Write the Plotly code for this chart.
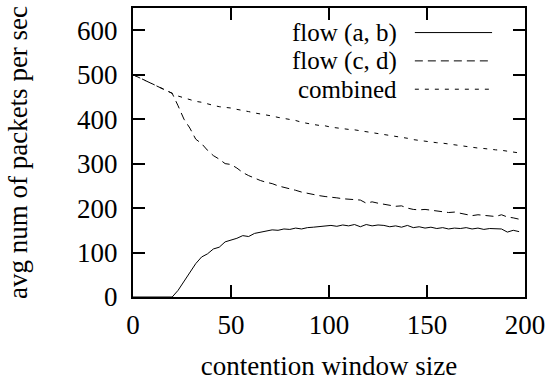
import plotly.graph_objects as go

window = [0, 20, 23, 26, 29, 32, 35, 38, 41, 44, 47, 50, 53, 56, 59, 62, 65, 68, 71, 74,
          77, 80, 83, 86, 89, 92, 95, 98, 101, 104, 107, 110, 113, 116, 119, 122, 125,
          128, 131, 134, 137, 140, 143, 146, 149, 152, 155, 158, 161, 164, 167, 170,
          173, 176, 179, 182, 185, 188, 191, 194, 197]

flow_ab = [0, 0, 15, 35, 58, 75, 90, 97, 108, 112, 124, 128, 132, 138, 136, 143, 146,
           148, 151, 150, 153, 152, 155, 153, 156, 157, 158, 160, 161, 159, 162, 160,
           163, 158, 163, 160, 162, 161, 158, 160, 157, 161, 156, 158, 155, 157, 154,
           156, 153, 155, 154, 156, 153, 155, 152, 154, 153, 153, 146, 150, 147]

flow_cd = [500, 458, 430, 400, 380, 355, 345, 330, 318, 310, 300, 298, 290, 280, 273,
           267, 262, 258, 255, 250, 247, 244, 240, 236, 233, 231, 228, 226, 225, 223,
           221, 220, 219, 218, 211, 214, 211, 209, 206, 204, 205, 200, 197, 196, 197,
           195, 193, 192, 190, 191, 188, 186, 183, 185, 184, 183, 181, 185, 180, 178, 175]

combined = [500, 458, 452, 448, 444, 440, 438, 434, 431, 428, 427, 425, 422, 420, 417,
            414, 412, 409, 407, 404, 402, 399, 397, 393, 390, 388, 386, 385, 382, 380,
            379, 377, 376, 374, 371, 369, 367, 365, 363, 361, 359, 357, 354, 352, 351,
            349, 347, 346, 344, 342, 340, 339, 337, 335, 334, 332, 331, 330, 328, 326, 324]

series_names = ["flow (a, b)", "flow (c, d)", "combined"]
x_ticks = [0, 50, 100, 150, 200]
y_ticks = [0, 100, 200, 300, 400, 500, 600]

FONT = "Liberation Serif"
FS = 27
LEG_FS = 25

dashes = ["solid", "8px,5px", "4px,6px"]
series = [flow_ab, flow_cd, combined]

fig = go.Figure()
for name, vals, d in zip(series_names, series, dashes):
    fig.add_trace(go.Scatter(x=window, y=vals, mode="lines", name=name,
                             line=dict(color="black", width=1, dash=d),
                             showlegend=False))

# manual legend (text right-aligned, sample on the right, as in gnuplot)
leg_y = [0.915, 0.817, 0.719]
for name, d, yy in zip(series_names, dashes, leg_y):
    fig.add_annotation(x=0.675, y=yy, xref="paper", yref="paper", text=name,
                       showarrow=False, xanchor="right", yanchor="middle",
                       borderpad=0,
                       font=dict(family=FONT, size=LEG_FS, color="black"))
    fig.add_shape(type="line", xref="paper", yref="paper", x0=0.719, x1=0.916,
                  y0=yy, y1=yy, line=dict(color="black", width=1, dash=d))

axis_common = dict(showline=True, linecolor="black", linewidth=2, mirror="allticks",
                   ticks="inside", ticklen=12, tickwidth=2, tickcolor="black",
                   showgrid=False, zeroline=False,
                   tickfont=dict(family=FONT, size=FS, color="black"))

fig.update_xaxes(range=[0, 200], tickvals=x_ticks, ticklabelstandoff=3,
                 title=dict(text="contention window size", standoff=20,
                            font=dict(family=FONT, size=FS, color="black")),
                 **axis_common)
fig.update_yaxes(range=[0, 650], tickvals=y_ticks, ticklabelstandoff=8,
                 title=dict(text="avg num of packets per sec", standoff=42,
                            font=dict(family=FONT, size=FS, color="black")),
                 **axis_common)

fig.update_layout(width=550, height=381, plot_bgcolor="white", paper_bgcolor="white",
                  font=dict(family=FONT, size=FS, color="black"),
                  margin=dict(l=133, r=25, t=8, b=84, autoexpand=False))

fig.write_html("out.html")
